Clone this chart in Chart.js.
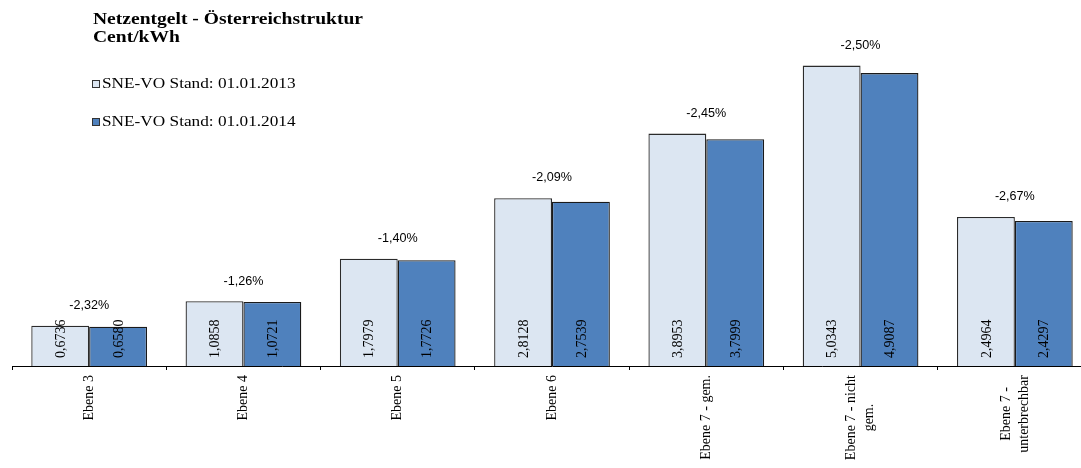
<!DOCTYPE html>
<html lang="de">
<head>
<meta charset="utf-8">
<title>Netzentgelt - Österreichstruktur</title>
<script src="https://cdn.jsdelivr.net/npm/chart.js@4/dist/chart.umd.min.js"></script>
<style>
    html, body { margin: 0; padding: 0; background: #fff; overflow: hidden; }
    #netzChart { display: block; }
</style>
</head>
<body>
<canvas id="netzChart" width="1100" height="468"></canvas>
<script>
const chartTitle = ['Netzentgelt - Österreichstruktur', 'Cent/kWh'];
const categories = ['Ebene 3', 'Ebene 4', 'Ebene 5', 'Ebene 6', 'Ebene 7 - gem.', ['Ebene 7 - nicht', 'gem.'], ['Ebene 7 -', 'unterbrechbar']];
const seriesNames = ['SNE-VO Stand: 01.01.2013', 'SNE-VO Stand: 01.01.2014'];
const values2013 = [0.6736, 1.0858, 1.7979, 2.8128, 3.8953, 5.0343, 2.4964];
const values2014 = [0.6580, 1.0721, 1.7726, 2.7539, 3.7999, 4.9087, 2.4297];
const changes = [-2.32, -1.26, -1.40, -2.09, -2.45, -2.50, -2.67]; // Veränderung 2013 -> 2014 in %

const colors = ['#DCE6F2', '#4F81BD'];
const serif = '"Liberation Serif", "Times New Roman", serif';
const sans = '"Liberation Sans", Arial, sans-serif';

// Zahlen im deutschen Format (Komma statt Punkt)
const fmt = (v, d) => v.toFixed(d).replace('.', ',');

// Text leicht in die Breite gezogen zeichnen
function wideText(ctx, text, x, y, sx, align) {
    ctx.save();
    ctx.translate(x, y);
    ctx.scale(sx, 1);
    ctx.textAlign = align;
    ctx.fillText(text, 0, 0);
    ctx.restore();
}

const labelPlugin = {
    id: 'labelPlugin',
    afterDatasetsDraw(chart) {
        const ctx = chart.ctx;
        const base = chart.scales.y.getPixelForValue(0);
        ctx.save();
        ctx.fillStyle = '#000';

        // Werte senkrecht in den Balken
        ctx.font = '14px ' + serif;
        ctx.textBaseline = 'middle';
        chart.data.datasets.forEach((ds, d) => {
            chart.getDatasetMeta(d).data.forEach((bar, i) => {
                ctx.save();
                ctx.translate(bar.x + 1, base - 8);
                ctx.rotate(-Math.PI / 2);
                ctx.textAlign = 'left';
                ctx.fillText(fmt(ds.data[i], 4), 0, 0);
                ctx.restore();
            });
        });

        // Prozentuelle Veränderung über jeder Gruppe
        ctx.font = '12px ' + sans;
        ctx.textBaseline = 'middle';
        changes.forEach((c, i) => {
            const x = chart.scales.x.getPixelForValue(i);
            const top = chart.scales.y.getPixelForValue(Math.max(values2013[i], values2014[i]));
            wideText(ctx, fmt(c, 2) + '%', x, top - 20, 1.05, 'center');
        });
        ctx.restore();
    },
    afterDraw(chart) {
        const ctx = chart.ctx;
        const xScale = chart.scales.x;
        const axisY = chart.chartArea.bottom;
        ctx.save();
        ctx.fillStyle = '#000';

        // Kategorien senkrecht unter der Achse, Zeilen zentriert
        ctx.font = '14px ' + serif;
        ctx.textBaseline = 'middle';
        categories.forEach((cat, i) => {
            const lines = Array.isArray(cat) ? cat : [cat];
            const maxW = Math.max(...lines.map(l => ctx.measureText(l).width));
            const lh = 18;
            ctx.save();
            ctx.translate(xScale.getPixelForValue(i), axisY + 9);
            ctx.rotate(-Math.PI / 2);
            ctx.textAlign = 'center';
            lines.forEach((l, k) => {
                ctx.fillText(l, -maxW / 2, (k - (lines.length - 1) / 2) * lh);
            });
            ctx.restore();
        });

        // Titel
        ctx.textBaseline = 'alphabetic';
        ctx.font = 'bold 17px ' + serif;
        wideText(ctx, chartTitle[0], 93, 24, 1.15, 'left');
        wideText(ctx, chartTitle[1], 93, 42, 1.15, 'left');

        // Legende
        ctx.font = '15px ' + serif;
        chart.data.datasets.forEach((ds, d) => {
            const y = 80 + d * 38;
            ctx.fillStyle = colors[d];
            ctx.fillRect(92, y, 8, 8);
            ctx.strokeStyle = '#333';
            ctx.lineWidth = 1;
            ctx.strokeRect(92.5, y + 0.5, 7, 7);
            ctx.fillStyle = '#000';
            wideText(ctx, ds.label, 102, y + 8, 1.15, 'left');
        });
        ctx.restore();
    }
};

const ctx = document.getElementById('netzChart').getContext('2d');
new Chart(ctx, {
    type: 'bar',
    data: {
        labels: categories,
        datasets: [
            { label: seriesNames[0], data: values2013, backgroundColor: colors[0], borderColor: '#2b2b2b', borderWidth: 1.3 },
            { label: seriesNames[1], data: values2014, backgroundColor: colors[1], borderColor: '#1a1a1a', borderWidth: 1.3 }
        ]
    },
    options: {
        responsive: false,
        animation: false,
        layout: { padding: { left: 12, right: 8, top: 8, bottom: 0 } },
        datasets: { bar: { categoryPercentage: 0.75, barPercentage: 1.0 } },
        plugins: {
            legend: { display: false },
            tooltip: { enabled: false },
            title: { display: false }
        },
        scales: {
            x: {
                offset: true,
                ticks: { display: false },
                grid: { display: true, offset: true, drawOnChartArea: false, drawTicks: true, tickLength: 4, color: '#000', lineWidth: 1 },
                border: { display: true, color: '#000', width: 1 },
                afterFit(scale) { scale.height = 102; } // Platz für die senkrechten Beschriftungen
            },
            y: {
                display: false,
                min: 0,
                max: 6
            }
        }
    },
    plugins: [labelPlugin]
});
</script>
</body>
</html>
